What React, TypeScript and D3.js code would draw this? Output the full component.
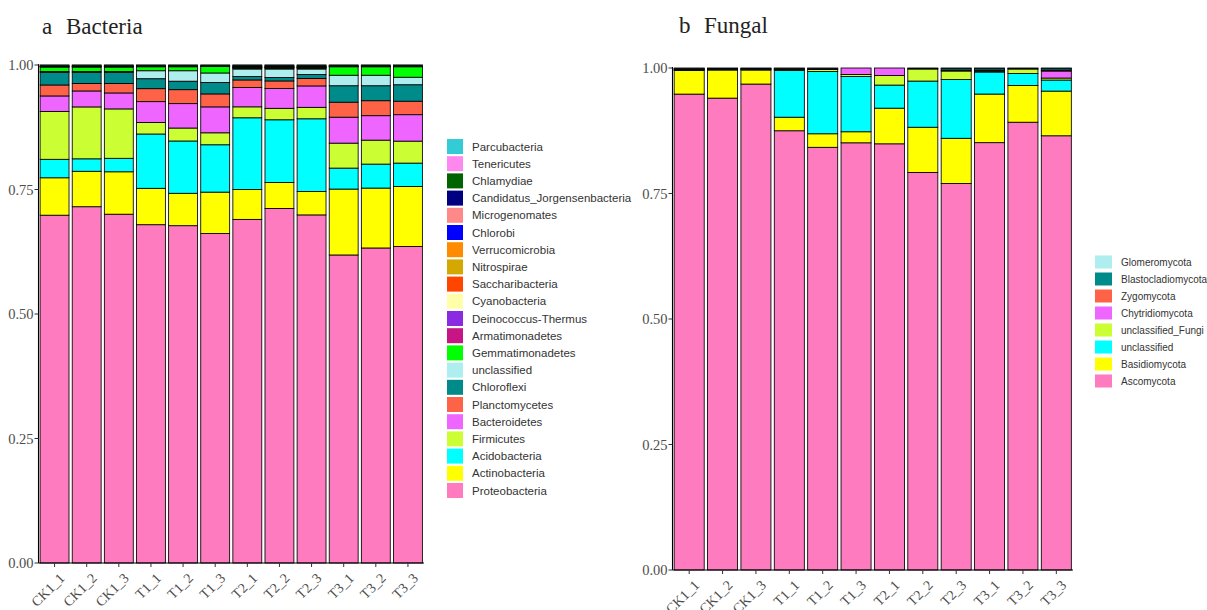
import React from "react";
import * as d3 from "d3";

// ---------- shared ----------
const samples = ["CK1_1", "CK1_2", "CK1_3", "T1_1", "T1_2", "T1_3", "T2_1", "T2_2", "T2_3", "T3_1", "T3_2", "T3_3"];
const yTicks = [0, 0.25, 0.5, 0.75, 1];

// ---------- bacteria (bottom -> top of stack) ----------
const bacteriaTaxa = [
  "Proteobacteria", "Actinobacteria", "Acidobacteria", "Firmicutes", "Bacteroidetes", "Planctomycetes",
  "Chloroflexi", "unclassified", "Gemmatimonadetes", "Armatimonadetes", "Deinococcus-Thermus", "Cyanobacteria",
  "Saccharibacteria", "Nitrospirae", "Verrucomicrobia", "Chlorobi", "Microgenomates",
  "Candidatus_Jorgensenbacteria", "Chlamydiae", "Tenericutes", "Parcubacteria",
];
const bacteriaColors = [
  "#FF7BC0", "#FFFF00", "#00FFFF", "#CCFF33", "#EE66FF", "#FF6347",
  "#008B8B", "#AEEEEE", "#00FF00", "#C71585", "#8A2BE2", "#FFFFAA",
  "#FF4500", "#D4A800", "#FF8C00", "#0000FF", "#FF8888",
  "#000080", "#006400", "#FF88EE", "#33CCD6",
];
const proteobacteria = [0.697, 0.714, 0.699, 0.679, 0.677, 0.661, 0.690, 0.712, 0.699, 0.617, 0.631, 0.634];
const actinobacteria = [0.075, 0.071, 0.085, 0.073, 0.065, 0.083, 0.060, 0.052, 0.047, 0.132, 0.120, 0.120];
const acidobacteria = [0.037, 0.025, 0.027, 0.109, 0.105, 0.095, 0.144, 0.126, 0.146, 0.042, 0.048, 0.047];
const firmicutes = [0.096, 0.104, 0.099, 0.023, 0.026, 0.024, 0.022, 0.023, 0.023, 0.050, 0.048, 0.044];
const bacteroidetes = [0.031, 0.032, 0.032, 0.042, 0.049, 0.052, 0.039, 0.040, 0.043, 0.052, 0.049, 0.053];
const planctomycetes = [0.022, 0.015, 0.019, 0.026, 0.028, 0.026, 0.015, 0.015, 0.015, 0.030, 0.030, 0.027];
const chloroflexi = [0.025, 0.022, 0.022, 0.020, 0.017, 0.023, 0.007, 0.007, 0.008, 0.033, 0.030, 0.033];
const unclassifiedBacteria = [0.002, 0.002, 0.002, 0.016, 0.021, 0.019, 0.015, 0.017, 0.011, 0.021, 0.021, 0.015];
const gemmatimonadetes = [0.009, 0.009, 0.009, 0.008, 0.008, 0.013, 0.002, 0.002, 0.002, 0.017, 0.017, 0.021];
const armatimonadetes = [0, 0, 0, 0, 0, 0, 0.0005, 0.0005, 0.0005, 0, 0, 0];
const deinococcus = [0, 0, 0, 0, 0, 0, 0, 0, 0, 0, 0, 0];
const cyanobacteria = [0, 0, 0, 0, 0, 0, 0.0005, 0.0005, 0.0005, 0, 0, 0];
const saccharibacteria = [0.0005, 0.0005, 0.0005, 0.0005, 0.0005, 0, 0.0005, 0.0005, 0.0005, 0.0005, 0.0005, 0.0005];
const nitrospirae = [0, 0, 0, 0, 0, 0, 0.0005, 0.0005, 0.0005, 0, 0, 0];
const verrucomicrobia = [0, 0, 0, 0, 0, 0, 0, 0, 0, 0, 0, 0];
const chlorobi = [0, 0, 0, 0, 0, 0, 0, 0, 0, 0, 0, 0];
const microgenomates = [0, 0, 0, 0, 0, 0, 0, 0, 0, 0, 0, 0];
const candidatus = [0.0005, 0.0005, 0.0005, 0.0005, 0.0005, 0.0005, 0.0015, 0.0015, 0.0015, 0.0005, 0.0005, 0.0005];
const chlamydiae = [0.0025, 0.0025, 0.0025, 0.002, 0.002, 0.002, 0.002, 0.002, 0.002, 0.002, 0.002, 0.002];
const tenericutes = [0, 0, 0, 0, 0, 0, 0, 0, 0, 0, 0, 0];
const parcubacteria = [0.0005, 0.0005, 0.0005, 0.0005, 0.0005, 0.0005, 0.0005, 0.0005, 0.0005, 0.0005, 0.0005, 0.0005];
const bacteriaValues = [
  proteobacteria, actinobacteria, acidobacteria, firmicutes, bacteroidetes, planctomycetes,
  chloroflexi, unclassifiedBacteria, gemmatimonadetes, armatimonadetes, deinococcus, cyanobacteria,
  saccharibacteria, nitrospirae, verrucomicrobia, chlorobi, microgenomates,
  candidatus, chlamydiae, tenericutes, parcubacteria,
];

// ---------- fungi (bottom -> top of stack) ----------
const fungiTaxa = [
  "Ascomycota", "Basidiomycota", "unclassified", "unclassified_Fungi",
  "Chytridiomycota", "Zygomycota", "Blastocladiomycota", "Glomeromycota",
];
const fungiColors = ["#FF7BC0", "#FFFF00", "#00FFFF", "#CCFF33", "#EE66FF", "#FF6347", "#008B8B", "#AEEEEE"];
const ascomycota = [0.948, 0.940, 0.968, 0.875, 0.842, 0.851, 0.849, 0.792, 0.770, 0.853, 0.892, 0.865];
const basidiomycota = [0.047, 0.056, 0.028, 0.027, 0.027, 0.022, 0.071, 0.090, 0.090, 0.097, 0.073, 0.089];
const unclassifiedFungal = [0.001, 0.001, 0.001, 0.093, 0.124, 0.110, 0.046, 0.092, 0.117, 0.044, 0.024, 0.022];
const unclassifiedFungi = [0.001, 0.001, 0.001, 0.002, 0.004, 0.004, 0.019, 0.024, 0.017, 0.002, 0.009, 0.004];
const chytridiomycota = [0.0, 0.0, 0.0, 0.0, 0.0, 0.013, 0.015, 0.0, 0.0, 0.0, 0.0, 0.014];
const zygomycota = [0.001, 0.001, 0.001, 0.001, 0.001, 0.0, 0.0, 0.001, 0.002, 0.002, 0.001, 0.002];
const blastocladiomycota = [0.001, 0.001, 0.001, 0.001, 0.001, 0.0, 0.0, 0.001, 0.003, 0.003, 0.001, 0.003];
const glomeromycota = [0.001, 0.0, 0.0, 0.001, 0.001, 0.0, 0.0, 0.0, 0.001, 0.001, 0.0, 0.001];
const fungiValues = [
  ascomycota, basidiomycota, unclassifiedFungal, unclassifiedFungi,
  chytridiomycota, zygomycota, blastocladiomycota, glomeromycota,
];

const SERIF = "'Liberation Serif', 'Times New Roman', serif";
const SANS = "'Liberation Sans', Arial, sans-serif";

type PanelProps = {
  x0: number; x1: number; y0: number; y1: number;
  taxa: string[]; colors: string[]; values: number[][];
};

function Panel({ x0, x1, y0, y1, taxa, colors, values }: PanelProps) {
  const rows = samples.map((s, i) => {
    const r: any = { sample: s };
    taxa.forEach((t, k) => { r[t] = values[k][i]; });
    return r;
  });
  const stack = d3.stack<any>().keys(taxa).offset(d3.stackOffsetExpand);
  const layers = stack(rows);
  const x = d3.scaleBand<string>().domain(samples).range([x0, x1]).paddingInner(0.1).paddingOuter(0.05);
  const y = d3.scaleLinear().domain([0, 1]).range([y1, y0]);
  return (
    <g>
      {layers.map((layer, k) => (
        <g key={taxa[k]} fill={colors[k]}>
          {layer.map((d, i) => (
            <rect key={i} x={x(samples[i])!} width={x.bandwidth()} y={y(d[1])}
              height={Math.max(0, y(d[0]) - y(d[1]))} stroke="#000" strokeWidth={0.85} />
          ))}
        </g>
      ))}
      <line x1={x0} x2={x0} y1={y0 - 1} y2={y1} stroke="#000" strokeWidth={1.1} />
      <line x1={x0} x2={x1} y1={y1} y2={y1} stroke="#000" strokeWidth={1.1} />
      {yTicks.map((t) => (
        <g key={t}>
          <line x1={x0 - 4} x2={x0} y1={y(t)} y2={y(t)} stroke="#333" strokeWidth={1} />
          <text x={x0 - 5} y={y(t)} dy="0.35em" textAnchor="end" fontFamily={SERIF} fontSize={14.5} fill="#4D4D4D">
            {d3.format(".2f")(t)}
          </text>
        </g>
      ))}
      {samples.map((s) => {
        const cx = x(s)! + x.bandwidth() / 2;
        return (
          <g key={s}>
            <line x1={cx} x2={cx} y1={y1} y2={y1 + 4} stroke="#333" strokeWidth={1} />
            <text transform={`translate(${cx + 4},${y1 + 9}) rotate(-45)`} textAnchor="end" dy="0.7em"
              fontFamily={SERIF} fontSize={14} fill="#4D4D4D">{s}</text>
          </g>
        );
      })}
    </g>
  );
}

type LegendProps = { x: number; y: number; step: number; kw: number; kh: number; fs: number; taxa: string[]; colors: string[] };
function Legend({ x, y, step, kw, kh, fs, taxa, colors }: LegendProps) {
  const items = taxa.map((t, k) => ({ t, c: colors[k] })).reverse();
  return (
    <g>
      {items.map((it, i) => (
        <g key={it.t} transform={`translate(${x},${y + i * step})`}>
          <rect x={0} y={-kh / 2} width={kw} height={kh} fill={it.c} />
          <text x={kw + 9} y={0} dy="0.35em" fontFamily={SANS} fontSize={fs} fill="#333">{it.t}</text>
        </g>
      ))}
    </g>
  );
}

export default function App() {
  return (
    <svg width={1207} height={610} style={{ position: "absolute", left: 0, top: 0, background: "#fff" }}>
      <text y={34} fontFamily={SERIF} fontSize={23} fill="#222">
        <tspan x={42}>a</tspan>
        <tspan x={66}>Bacteria</tspan>
      </text>
      <text y={33} fontFamily={SERIF} fontSize={23} fill="#222">
        <tspan x={679}>b</tspan>
        <tspan x={704}>Fungal</tspan>
      </text>
      <Panel x0={38.5} x1={424} y0={65} y1={563} taxa={bacteriaTaxa} colors={bacteriaColors} values={bacteriaValues} />
      <Legend x={447} y={146.5} step={17.2} kw={16} kh={15} fs={11.5} taxa={bacteriaTaxa} colors={bacteriaColors} />
      <Panel x0={672.5} x1={1073} y0={68} y1={570} taxa={fungiTaxa} colors={fungiColors} values={fungiValues} />
      <Legend x={1095} y={262} step={17} kw={17} kh={13} fs={10} taxa={fungiTaxa} colors={fungiColors} />
    </svg>
  );
}
